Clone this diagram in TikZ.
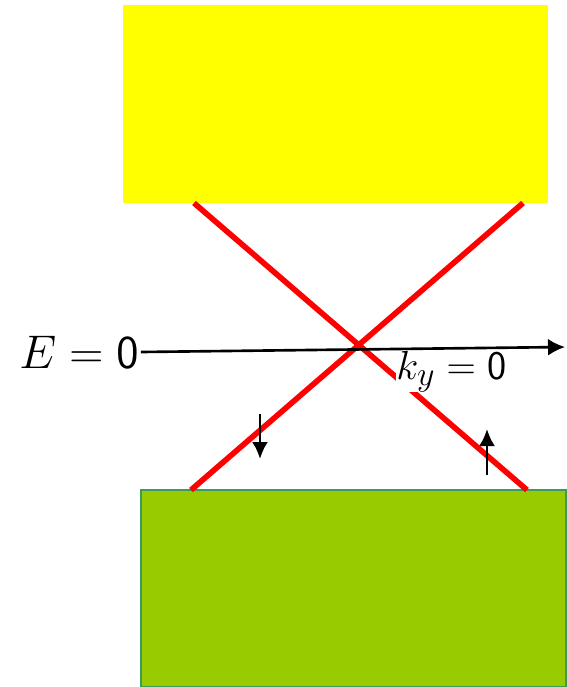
\documentclass[tikz,border=0pt]{standalone}
\usetikzlibrary{arrows.meta,positioning}

\definecolor{bandyellow}{RGB}{255,255,0}
\definecolor{bandgreen}{HTML}{99CC00}
\definecolor{bandedge}{HTML}{3C9A5A}
\definecolor{branchred}{RGB}{255,0,0}

\begin{document}
\begin{tikzpicture}[
  x=0.02cm, y=-0.02cm,
  font=\Huge,
  band/.style={minimum width=8.5cm, minimum height=3.96cm, inner sep=0pt},
  branch/.style={branchred, line width=3.2pt},
  axis/.style={line width=1.5pt, -{Latex[length=0.34cm,width=0.34cm]}},
  spin/.style={line width=1.6pt, -{Latex[length=0.34cm,width=0.32cm]}}
]
\useasboundingbox (0,0) rectangle (567,687);

% bands
\node[band, fill=bandyellow] (cond) at (335.5,104) {};
\node[band, fill=bandgreen, draw=bandedge, line width=0.8pt, minimum height=3.94cm] (val) at (353.5,588.5) {};

% edge-state branches
\coordinate (c1) at (194,203);
\coordinate (c2) at (523,203);
\coordinate (v1) at (191,490);
\coordinate (v2) at (527,490);
\draw[branch] (c1) -- (v2);
\draw[branch] (c2) -- (v1);

% energy axis
\node[inner sep=1pt, scale=1.08] (E) at (79,352) {$E=\mathsf{0}$};
\coordinate (axend) at (565,347);
\draw[axis] (E.east) -- (axend);
\node[fill=white, inner sep=0pt, anchor=north west, scale=0.93] (ky) at (396,351) {$k_y=\mathsf{0}$};

% spins
\coordinate (d1) at (260,414);
\coordinate (d2) at (260,459);
\coordinate (u1) at (487,475);
\coordinate (u2) at (487,429);
\draw[spin] (d1) -- (d2);
\draw[spin] (u1) -- (u2);

\end{tikzpicture}
\end{document}
